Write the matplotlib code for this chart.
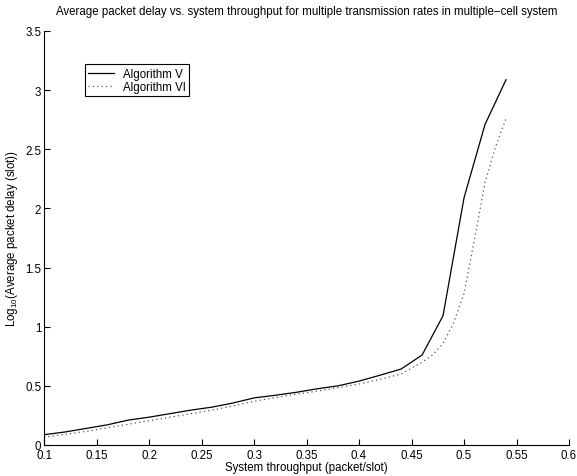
import numpy as np
import matplotlib
matplotlib.use("Agg")
import matplotlib.pyplot as plt
from matplotlib.ticker import FuncFormatter

plt.rcParams['font.family'] = ['Liberation Sans', 'DejaVu Sans']
plt.rcParams['mathtext.fontset'] = 'custom'
plt.rcParams['mathtext.rm'] = 'Liberation Sans'
plt.rcParams['mathtext.it'] = 'Liberation Sans:italic'
plt.rcParams['mathtext.bf'] = 'Liberation Sans:bold'

# Algorithm V (solid)
thr_v = [0.10, 0.12, 0.14, 0.16, 0.18, 0.20, 0.22, 0.24, 0.26, 0.28, 0.30, 0.32,
         0.34, 0.36, 0.38, 0.40, 0.42, 0.44, 0.46, 0.48, 0.50, 0.52, 0.54]
delay_v = [0.087, 0.11, 0.14, 0.17, 0.21, 0.235, 0.265, 0.295, 0.32, 0.355, 0.398, 0.42,
           0.445, 0.475, 0.50, 0.54, 0.59, 0.642, 0.76, 1.093, 2.09, 2.71, 3.088]

# Algorithm VI (dotted)
thr_vi = [0.10, 0.12, 0.14, 0.16, 0.18, 0.20, 0.22, 0.24, 0.26, 0.28, 0.30, 0.32,
          0.34, 0.36, 0.38, 0.40, 0.42, 0.44, 0.46, 0.47, 0.48, 0.49, 0.50, 0.51,
          0.52, 0.53, 0.54]
delay_vi = [0.065, 0.09, 0.115, 0.145, 0.175, 0.205, 0.235, 0.265, 0.295, 0.33, 0.37, 0.40,
            0.43, 0.455, 0.485, 0.515, 0.555, 0.60, 0.70, 0.76, 0.86, 1.03, 1.28, 1.74,
            2.22, 2.52, 2.76]

fs = 8.3

fig = plt.figure(figsize=(5.77, 4.77), dpi=100)
ax = fig.add_axes([0.0763, 0.065, 0.9099, 0.868])

ax.plot(thr_v, delay_v, color='black', linewidth=0.9, label='Algorithm V')
ax.plot(thr_vi, delay_vi, color='#555555', linewidth=0.9, linestyle=(0, (1, 2.5)),
        label='Algorithm VI')

ax.set_xlim(0.1, 0.6)
ax.set_ylim(0, 3.5)
ax.set_xticks(np.arange(0.1, 0.601, 0.05))
ax.set_yticks(np.arange(0, 3.51, 0.5))
ax.xaxis.set_major_formatter(FuncFormatter(lambda v, p: f"{v:g}"))
ax.yaxis.set_major_formatter(FuncFormatter(lambda v, p: f"{v:g}"))
ax.tick_params(direction='in', length=4, width=0.8, labelsize=fs, pad=2,
               top=False, right=False)
ax.tick_params(axis='x', pad=3)
for s in ['top', 'right']:
    ax.spines[s].set_visible(False)
for s in ['left', 'bottom']:
    ax.spines[s].set_linewidth(0.8)

ax.set_title('Average packet delay vs. system throughput for multiple transmission rates in multiple\u2212cell system',
             fontsize=fs, pad=12)
ax.set_xlabel('System throughput (packet/slot)', fontsize=fs, labelpad=0)
ax.set_ylabel('Log$_{10}$(Average packet delay (slot))', fontsize=fs, labelpad=4)

leg = ax.legend(loc='upper left', bbox_to_anchor=(0.078, 0.92), fontsize=fs,
                fancybox=False, edgecolor='black', framealpha=1,
                handlelength=2.2, borderpad=0.3, labelspacing=0.1, borderaxespad=0)
leg.get_frame().set_linewidth(0.8)

fig.savefig('out.png', dpi=100)
